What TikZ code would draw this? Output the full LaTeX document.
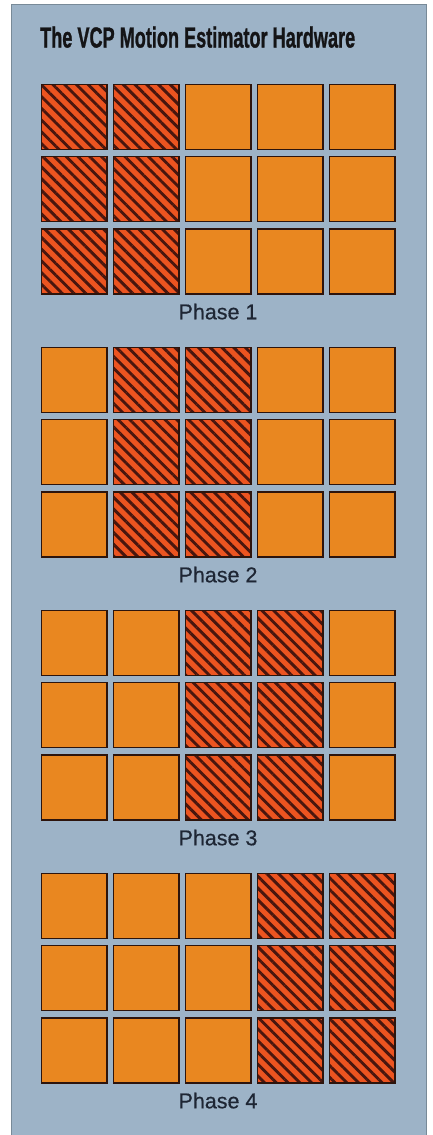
\documentclass[tikz,border=0pt]{standalone}
\usepackage{fontspec}
\usepackage{graphicx}
\setmainfont{Liberation Sans}
\newfontfamily\titlefont[BoldFeatures={FakeBold=1.3}]{Liberation Sans}
\newfontfamily\labelfont[FakeBold=0.5]{Liberation Sans}
\usetikzlibrary{patterns.meta}
\definecolor{panelblue}{RGB}{157,179,199}
\definecolor{panelline}{RGB}{120,138,152}
\definecolor{cellorange}{RGB}{233,135,32}
\definecolor{hotred}{RGB}{236,84,32}
\definecolor{stripe}{RGB}{72,22,14}
\definecolor{cellline}{RGB}{45,20,12}
\definecolor{labelink}{RGB}{30,38,52}
\definecolor{titleink}{RGB}{20,20,22}
\begin{document}
\begin{tikzpicture}[x=1pt,y=-1pt,
  cell/.style={rectangle, draw=cellline, line width=1.5pt, fill=cellorange,
    minimum width=65.5pt, minimum height=65pt, inner sep=0pt},
  hot/.style={rectangle, draw=cellline, line width=1.5pt,
    minimum width=65.5pt, minimum height=65pt, inner sep=0pt,
    preaction={fill=hotred},
    pattern={Lines[angle=-45,distance=8.3pt,line width=2.9pt]},
    pattern color=stripe},
  phase/.style={anchor=base, inner sep=0pt, text=labelink,
    font=\labelfont\fontsize{21.5pt}{24pt}\selectfont},
  titlestyle/.style={anchor=base west, inner sep=0pt, text=titleink}]
\useasboundingbox (0,0) rectangle (433,1135);
\fill[white] (0,0) rectangle (433,1135);
\fill[panelblue] (11,4) rectangle (426,1136);
\draw[panelline, line width=0.9pt] (11,1136) -- (11,4) -- (426,4) -- (426,1136);
\node[titlestyle] (title) at (40,47.5)
  {\resizebox{315pt}{\height}{\titlefont\bfseries\fontsize{29pt}{29pt}\selectfont The VCP Motion Estimator Hardware}};
\foreach \g in {0,...,3}{
  \foreach \r in {0,1,2}{
    \foreach \c in {0,...,4}{
      \pgfmathtruncatemacro{\ishot}{((\c==\g)||(\c==\g+1))?1:0}
      \ifnum\ishot=1
        \node[hot] (s\g\r\c) at ({74+72*\c},{116.75+72.3*\r+263*\g}) {};
      \else
        \node[cell] (s\g\r\c) at ({74+72*\c},{116.75+72.3*\r+263*\g}) {};
      \fi
    }
  }
  \pgfmathtruncatemacro{\pn}{\g+1}
  \node[phase] (ph\g) at (218,{319.3+263*\g}) {Phase \pn};
}
\end{tikzpicture}
\end{document}
